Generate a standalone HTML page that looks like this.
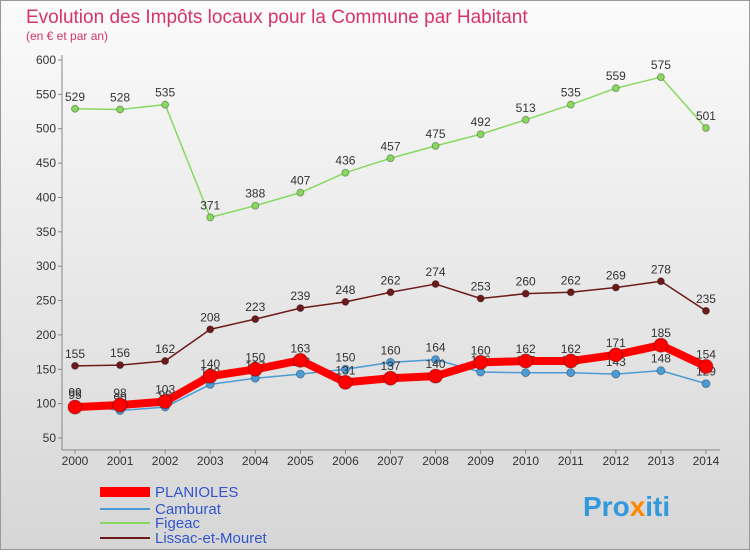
<!DOCTYPE html>
<html><head><meta charset="utf-8"><style>
body{margin:0;width:750px;height:550px;overflow:hidden;font-family:"Liberation Sans",sans-serif}
svg text{font-family:"Liberation Sans",sans-serif}
</style></head><body>
<svg id="c" width="750" height="550" xmlns="http://www.w3.org/2000/svg">
<defs><linearGradient id="bg" x1="0" y1="0" x2="0" y2="1"><stop offset="0" stop-color="#fbfbfb"/><stop offset="1" stop-color="#d6d6d6"/></linearGradient></defs>
<rect x="0.5" y="0.5" width="749" height="549" fill="url(#bg)" stroke="#999"/>
<text x="26" y="23" font-size="19" fill="#d6336c">Evolution des Impôts locaux pour la Commune par Habitant</text>
<text x="26" y="40" font-size="12" fill="#d6336c">(en € et par an)</text>
<g id="axes"></g><g id="series"></g>
<g>
<rect x="100" y="487" width="50" height="10" fill="#ff0000"/>
<text x="155" y="497" font-size="15" fill="#3355cc">PLANIOLES</text>
<line x1="100" y1="509" x2="150" y2="509" stroke="#4b9bd6" stroke-width="2"/>
<text x="155" y="514" font-size="15" fill="#3355cc">Camburat</text>
<line x1="100" y1="523" x2="150" y2="523" stroke="#88d860" stroke-width="2"/>
<text x="155" y="528" font-size="15" fill="#3355cc">Figeac</text>
<line x1="100" y1="538" x2="150" y2="538" stroke="#6d1a1a" stroke-width="2"/>
<text x="155" y="543" font-size="15" fill="#3355cc">Lissac-et-Mouret</text>
</g>
<text x="583" y="516" font-size="28" font-weight="bold" fill="#3399dd">Pro<tspan fill="#ff8800">x</tspan>iti</text>
</svg>
<script>
const years=[2000,2001,2002,2003,2004,2005,2006,2007,2008,2009,2010,2011,2012,2013,2014];
const yTicks=[50,100,150,200,250,300,350,400,450,500,550,600];
const planioles=[95,98,103,140,150,163,131,137,140,160,162,162,171,185,154];
const camburat=[99,90,95,128,137,143,150,160,164,146,145,145,143,148,129];
const figeac=[529,528,535,371,388,407,436,457,475,492,513,535,559,575,501];
const lissac=[155,156,162,208,223,239,248,262,274,253,260,262,269,278,235];
const NS="http://www.w3.org/2000/svg";
const X=i=>75+i*45.07, Y=v=>438-(v-50)*378/550;
function mk(p,t,a){const e=document.createElementNS(NS,t);for(const k in a)e.setAttribute(k,a[k]);p.appendChild(e);return e;}
const ax=document.getElementById('axes'), sg=document.getElementById('series');
const yl=mk(ax,'line',{x1:62,y1:55,x2:62,y2:450,stroke:'#888'});


const xl=mk(ax,'line',{x1:62,y1:450,x2:720,y2:450,stroke:'#888'});


yTicks.forEach(v=>{const t=mk(ax,'text',{x:56,y:Y(v)+4,'font-size':12,'text-anchor':'end',fill:'#333'});t.textContent=v;


mk(ax,'line',{x1:58,y1:Y(v),x2:62,y2:Y(v),stroke:'#888'});});
years.forEach((yr,i)=>{const t=mk(ax,'text',{x:X(i),y:465,'font-size':12,'text-anchor':'middle',fill:'#333'});t.textContent=yr;


mk(ax,'line',{x1:X(i),y1:450,x2:X(i),y2:454,stroke:'#888'});});
function series(d,col,w,r,name){const g=mk(sg,'g',{});


mk(g,'polyline',{points:d.map((v,i)=>X(i)+','+Y(v)).join(' '),fill:'none',stroke:col,'stroke-width':w,'stroke-linejoin':'round'});
d.forEach((v,i)=>{const c=mk(g,'circle',{cx:X(i),cy:Y(v),r:r,fill:col,stroke:'rgba(0,0,0,0.3)'});


const t=mk(g,'text',{x:X(i),y:Y(v)-8,'font-size':12,'text-anchor':'middle',fill:'#333'});t.textContent=v;

});}
series(figeac,'#88d860',1.5,3.5,'figeac');
series(lissac,'#6d1a1a',1.5,3.5,'lissac');
series(camburat,'#4b9bd6',1.5,4,'camburat');
series(planioles,'#ff0000',8,7,'planioles');
</script>
</body></html>
